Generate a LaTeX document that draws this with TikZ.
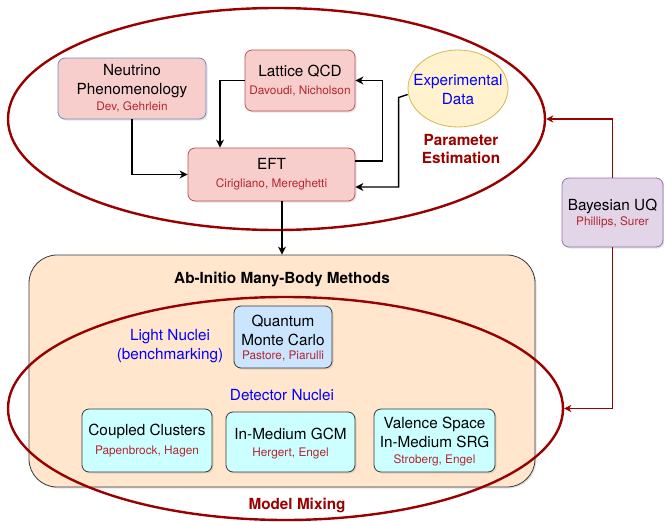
\documentclass[tikz,border=0pt]{standalone}
\usepackage{fontspec}
\setmainfont{TeX Gyre Heros}
\usetikzlibrary{shapes.geometric,arrows.meta,shadows}
\definecolor{pinkF}{HTML}{F8CECC}
\definecolor{pinkD}{HTML}{B85450}
\definecolor{blueD}{HTML}{6C8EBF}
\definecolor{yelF}{HTML}{FFF2CC}
\definecolor{yelD}{HTML}{D6B656}
\definecolor{purF}{HTML}{E1D5E7}
\definecolor{purD}{HTML}{9673A6}
\definecolor{orF}{HTML}{FFE6CC}
\definecolor{darkD}{HTML}{36393D}
\definecolor{qmcF}{HTML}{CCE5FF}
\definecolor{cyF}{HTML}{CCFFFF}
\definecolor{ring}{HTML}{990000}
\definecolor{nmC}{HTML}{B3262E}
\definecolor{txB}{HTML}{0000FF}
\tikzset{
  sh/.style={drop shadow={shadow xshift=1.5pt,shadow yshift=-1.5pt,opacity=0.22}},
  boxs/.style={draw, rounded corners=7pt, line width=0.8pt, inner sep=0pt, sh},
  ttl/.style={font=\fontsize{15.3}{19}\selectfont, align=center, inner sep=0pt},
  bld/.style={font=\fontsize{15.3}{18}\selectfont\bfseries, align=center, inner sep=0pt},
  nm/.style={font=\fontsize{11.8}{14}\selectfont, text=nmC, inner sep=0pt},
  ringe/.style={ellipse, draw=ring, line width=2.4pt, inner sep=0pt},
  arr/.style={line width=1.4pt, -{Stealth[length=8pt,width=8pt,inset=2.5pt]}},
  rarr/.style={line width=1.4pt, draw=ring, -{Stealth[length=7pt,width=7pt,inset=2pt]}},
}
\begin{document}
\begin{tikzpicture}[x=1pt,y=-1pt]
\useasboundingbox (0,0) rectangle (664,522);
% top ellipse
\node[ringe, minimum width=537pt, minimum height=222pt] (pe) at (276.5,119) {};
% boxes top
\node[boxs, fill=pinkF, draw=blueD, minimum width=148pt, minimum height=61pt] (neu) at (132,88.5) {};
\node[ttl] (neuT) at (132,81.5) {Neutrino\\Phenomenology};
\node[nm] (neuN) at (132,107) {Dev, Gehrlein};
\node[boxs, fill=pinkF, draw=pinkD, minimum width=110pt, minimum height=61pt] (lat) at (300,80.5) {};
\node[ttl] (latT) at (300,71) {Lattice QCD};
\node[nm] (latN) at (300,91) {Davoudi, Nicholson};
\node[boxs, fill=pinkF, draw=pinkD, minimum width=167pt, minimum height=53pt] (eft) at (271.5,174.5) {};
\node[ttl] (eftT) at (271.5,164) {EFT};
\node[nm] (eftN) at (271.5,184) {Cirigliano, Mereghetti};
\node[ellipse, draw=yelD, fill=yelF, line width=0.8pt, minimum width=100pt, minimum height=77pt, inner sep=0pt] (exp) at (458,88.5) {};
\node[ttl, text=txB] (expT) at (458,89.5) {Experimental\\Data};
\node[bld, text=ring] (peT) at (461,149) {Parameter\\Estimation};
% Bayesian
\node[boxs, fill=purF, draw=purD, minimum width=101pt, minimum height=69pt] (bay) at (612.5,212.5) {};
\node[ttl] (bayT) at (612.5,206) {Bayesian UQ};
\node[nm] (bayN) at (612.5,222) {Phillips, Surer};
% Ab initio
\node[draw=darkD, fill=orF, line width=0.8pt, rounded corners=28pt, minimum width=506pt, minimum height=232pt, inner sep=0pt, sh] (ab) at (282,371) {};
\node[bld] (abT) at (282,279) {Ab-Initio Many-Body Methods};
\node[ttl, text=txB] (light) at (170,346.5) {Light Nuclei\\(benchmarking)};
\node[boxs, fill=qmcF, draw=darkD, minimum width=98pt, minimum height=62pt] (qmc) at (283,337) {};
\node[ttl] (qmcT) at (283,330) {Quantum\\Monte Carlo};
\node[nm] (qmcN) at (283,356) {Pastore, Piarulli};
\node[ttl, text=txB] (det) at (282,395) {Detector Nuclei};
\node[boxs, fill=cyF, draw=darkD, minimum width=130pt, minimum height=63pt] (cc) at (147,440.5) {};
\node[ttl] (ccT) at (147,431) {Coupled Clusters};
\node[nm] (ccN) at (147,451) {Papenbrock, Hagen};
\node[boxs, fill=cyF, draw=darkD, minimum width=129pt, minimum height=60pt] (gcm) at (290.5,442) {};
\node[ttl] (gcmT) at (290.5,434) {In-Medium GCM};
\node[nm] (gcmN) at (290.5,453) {Hergert, Engel};
\node[boxs, fill=cyF, draw=darkD, minimum width=121pt, minimum height=63pt] (vs) at (434.5,440.5) {};
\node[ttl] (vsT) at (434.5,432) {Valence Space\\In-Medium SRG};
\node[nm] (vsN) at (434.5,460) {Stroberg, Engel};
% bottom ellipse
\node[ringe, minimum width=555pt, minimum height=223pt] (mm) at (285.5,408.5) {};
\node[bld, text=ring] (mmT) at (297,505) {Model Mixing};
% connectors
\draw[arr] (neu.south) |- (eft.west);
\draw[arr] (lat.west) -| ([xshift=-51.5pt]eft.north);
\draw[arr] ([yshift=13.5pt]eft.east) -- ++(27,0) |- (lat.east);
\draw[arr] ([yshift=-6pt]exp.west) -- ++(-9,3) |- ([yshift=-12.5pt]eft.east);
\draw[arr] (eft.south -| ab.north) -- (ab.north);
\draw[rarr] (bay.north) |- (pe.east);
\draw[rarr] (bay.south) |- (mm.east);
\end{tikzpicture}
\end{document}
